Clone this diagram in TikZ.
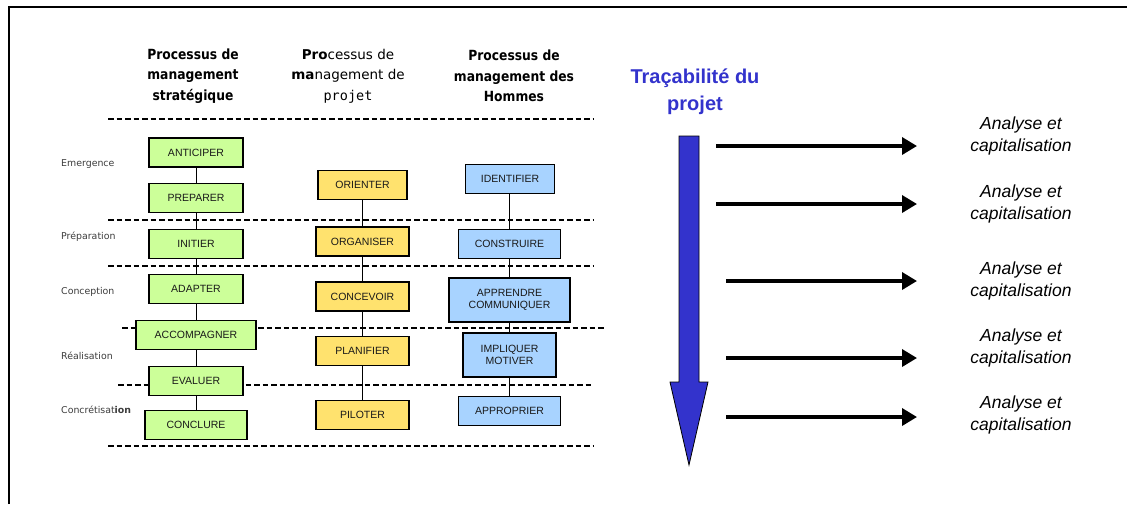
\documentclass[tikz,border=0pt]{standalone}
\usepackage{fontspec}
\setmainfont{Liberation Sans}
\newfontfamily\hdrfont[FakeStretch=0.88]{DejaVu Sans}
\newfontfamily\phasefont{DejaVu Sans}
\newfontfamily\projfont{DejaVu Sans Mono}
\usetikzlibrary{arrows.meta, positioning, backgrounds}
\definecolor{mygreen}{RGB}{204,255,153}
\definecolor{myyellow}{RGB}{255,226,110}
\definecolor{myblue}{RGB}{168,211,255}
\definecolor{myindigo}{RGB}{51,51,204}
\definecolor{mydark}{RGB}{25,25,25}
\definecolor{mygraytext}{RGB}{60,60,60}
\tikzset{
  procbox/.style={rectangle, draw=black, line width=1.2pt,
    minimum height=29pt, inner sep=0pt, align=center,
    font=\fontsize{10.5}{12}\selectfont, text=mydark},
  gbox/.style={procbox, fill=mygreen},
  ybox/.style={procbox, fill=myyellow},
  bbox/.style={procbox, fill=myblue},
  hdr/.style={align=center, inner sep=0pt,
    font=\hdrfont\bfseries\fontsize{14}{20.5}\selectfont},
  phase/.style={anchor=west, inner sep=0pt, text=mygraytext,
    font=\phasefont\fontsize{9.4}{11}\selectfont},
  note/.style={align=center, inner sep=0pt,
    font=\itshape\fontsize{17.5}{22.5}\selectfont},
  sepline/.style={line width=1.6pt, dash pattern=on 5.5pt off 3pt},
  link/.style={line width=1pt, color=black},
  flow/.style={-{Triangle[length=15pt, width=17pt]}, line width=3.5pt}
}

\begin{document}
\begin{tikzpicture}[x=1pt, y=-1pt]
  \useasboundingbox (0,0) rectangle (1127,504);

  % frame
  \draw[line width=2pt] (9,504) -- (9,7) -- (1127,7);

  % column headers
  \node[hdr] (hstrat) at (193,76) {Processus de\\management\\stratégique};
  \node[hdr, font=\phasefont\fontsize{13.5}{20.5}\selectfont] (hprojet) at (348,76)
    {{\bfseries Pro}cessus de\\{\bfseries ma}nagement de\\{\projfont projet}};
  \node[hdr] (hhommes) at (514,76) {Processus de\\management des\\Hommes};

  % phases
  \node[phase] (emerg) at (61,164) {Emergence};
  \node[phase] (prepa) at (61,237) {Préparation};
  \node[phase] (concep) at (61,292) {Conception};
  \node[phase] (realis) at (61,356) {Réalisation};
  \node[phase] (concret) at (61,410) {Concrétisat{\bfseries ion}};

  % strategic management
  \node[gbox, minimum width=94pt] (antic) at (196,152.5) {ANTICIPER};
  \node[gbox, minimum width=94pt] (prep) at (196,198) {PREPARER};
  \node[gbox, minimum width=94pt] (init) at (196,244) {INITIER};
  \node[gbox, minimum width=94pt] (adapt) at (196,289) {ADAPTER};
  \node[gbox, minimum width=120pt] (accomp) at (196,335) {ACCOMPAGNER};
  \node[gbox, minimum width=94pt] (eval) at (196,381) {EVALUER};
  \node[gbox, minimum width=102pt] (concl) at (196,425) {CONCLURE};

  % project management
  \node[ybox, minimum width=89pt] (orient) at (362.5,185) {ORIENTER};
  \node[ybox, minimum width=93pt] (organ) at (362.5,241.5) {ORGANISER};
  \node[ybox, minimum width=93pt] (concev) at (362.5,296.5) {CONCEVOIR};
  \node[ybox, minimum width=93pt] (planif) at (362.5,351) {PLANIFIER};
  \node[ybox, minimum width=93pt] (pilot) at (362.5,415) {PILOTER};

  % people management
  \node[bbox, minimum width=89pt] (ident) at (510,179) {IDENTIFIER};
  \node[bbox, minimum width=102pt] (constr) at (509.5,244) {CONSTRUIRE};
  \node[bbox, minimum width=121pt, minimum height=44pt] (apprend) at (509.5,300) {APPRENDRE\\COMMUNIQUER};
  \node[bbox, minimum width=93pt, minimum height=44pt] (impliq) at (509.5,355) {IMPLIQUER\\MOTIVER};
  \node[bbox, minimum width=102pt] (approp) at (509.5,411) {APPROPRIER};

  \begin{scope}[on background layer]
    % phase separators
    \draw[sepline] (108,119) -- (593,119);
    \draw[sepline] (108,220) -- (593,220);
    \draw[sepline] (108,266) -- (593,266);
    \draw[sepline] (122,328) -- (606,328);
    \draw[sepline] (118,385) -- (593,385);
    \draw[sepline] (108,446) -- (593,446);

    % chains
    \draw[link] (antic) -- (prep) -- (init) -- (adapt) -- (accomp) -- (eval) -- (concl);
    \draw[link] (orient) -- (organ) -- (concev) -- (planif) -- (pilot);
    \draw[link] (ident.south -| constr) -- (constr) -- (apprend) -- (impliq) -- (approp);
  \end{scope}

  % traceability
  \node[align=center, inner sep=0pt, text=myindigo,
    font=\bfseries\fontsize{20}{27}\selectfont] (trace) at (695,92) {Traçabilité du\\projet};
  \draw[fill=myindigo, draw=black, line width=0.8pt]
    (679,136) -- (699,136) -- (699,382) -- (708,382) -- (689,465)
    -- (670,382) -- (679,382) -- cycle;

  % analysis arrows
  \coordinate (a1s) at (716,146); \coordinate (a1e) at (917,146);
  \coordinate (a2s) at (716,204); \coordinate (a2e) at (917,204);
  \coordinate (a3s) at (726,281); \coordinate (a3e) at (917,281);
  \coordinate (a4s) at (726,358); \coordinate (a4e) at (917,358);
  \coordinate (a5s) at (726,417); \coordinate (a5e) at (917,417);
  \draw[flow] (a1s) -- (a1e);
  \draw[flow] (a2s) -- (a2e);
  \draw[flow] (a3s) -- (a3e);
  \draw[flow] (a4s) -- (a4e);
  \draw[flow] (a5s) -- (a5e);

  \node[note] (anal1) at (1021,136) {Analyse et\\capitalisation};
  \node[note] (anal2) at (1021,204) {Analyse et\\capitalisation};
  \node[note] (anal3) at (1021,281) {Analyse et\\capitalisation};
  \node[note] (anal4) at (1021,348) {Analyse et\\capitalisation};
  \node[note] (anal5) at (1021,415) {Analyse et\\capitalisation};

\end{tikzpicture}
\end{document}
